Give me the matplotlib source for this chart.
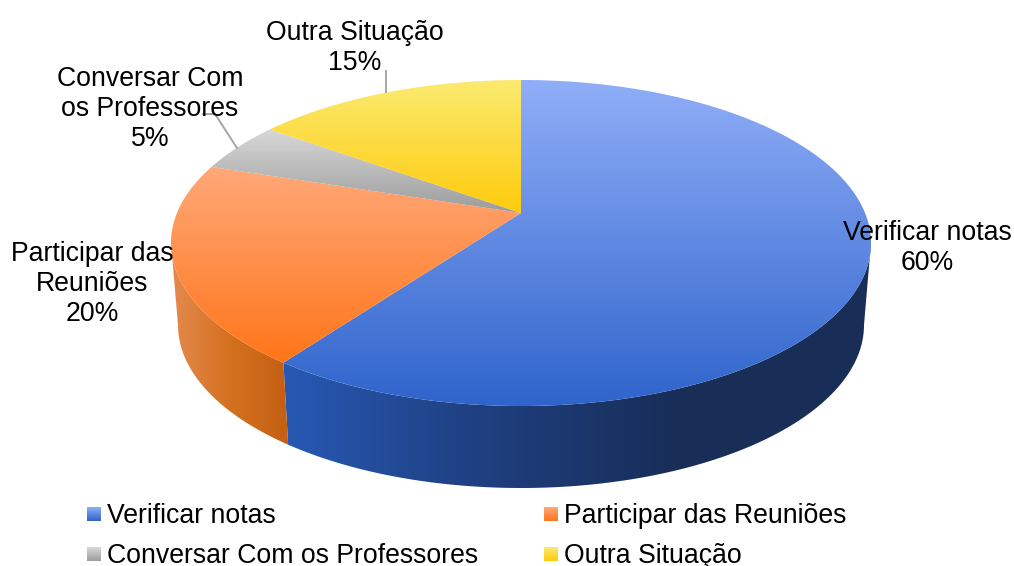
# 3d style pie chart, drawn by hand since matplotlib has no perspective pie
import numpy as np
import matplotlib
matplotlib.use('Agg')
import matplotlib.pyplot as plt
from matplotlib.colors import LinearSegmentedColormap
from matplotlib.patches import Polygon

labels = ['Verificar notas', 'Participar das Reuniões', 'Conversar Com os Professores', 'Outra Situação']
wrapped = ['Verificar notas', 'Participar das\nReuniões', 'Conversar Com\nos Professores', 'Outra Situação']
values = [60, 20, 5, 15]

top_colors = [('#90AEF8', '#2F64CB'), ('#FFA878', '#FF7519'), ('#D8D8D8', '#9C9C9C'), ('#FBEA70', '#FFCB0C')]
side_colors = [('#2759B4', '#1F3F80', '#182E58', '#1A2F57'), ('#E48A50', '#D4711F', '#C45F12'),
               ('#A0A0A0', '#808080'), ('#C09A10', '#A08000')]
label_pos = [(927, 248), (92, 284), (150, 109), (355, 48)]
legend_pos = [(87, 523), (544, 523), (87, 563), (544, 563)]

plt.rcParams['font.family'] = ['Liberation Sans', 'DejaVu Sans']

cx, cy = 521, 243
rx, ry = 350, 163
persp = 30 / ry
depth = 82
shrink = 0.98
fsize = 19.2


# perspective: circle to ellipse, the apex ends up above the ellipse centre
def project(theta, r=1.0, scale=1.0, dy=0):
    u = r * np.sin(theta)
    v = r * np.cos(theta)
    d = persp * v + 1
    x = cx + scale * rx * np.sqrt(1 - persp ** 2) * u / d
    y = cy + dy - ((ry * v + 30) / d)
    return x, y


def shade(ax, xs, ys, colors, vertical=True, z=2):
    poly = Polygon(np.column_stack([xs, ys]), closed=True, facecolor='none', edgecolor='none', zorder=z)
    ax.add_patch(poly)
    cmap = LinearSegmentedColormap.from_list('g', colors)
    ramp = np.linspace(0, 1, 256)
    ramp = ramp.reshape(-1, 1) if vertical else ramp.reshape(1, -1)
    ext = (min(xs), max(xs), max(ys), min(ys))
    im = ax.imshow(ramp, cmap=cmap, extent=ext, aspect='auto', interpolation='bilinear', zorder=z)
    im.set_clip_path(poly)
    return im


fig = plt.figure(figsize=(10.14, 5.66), dpi=100)
ax = fig.add_axes([0, 0, 1, 1])

edges = np.concatenate([[0], np.cumsum(values)]) / np.sum(values) * 2 * np.pi

# only the front part of the rim shows, between the left and right silhouette points
front_start = np.arccos(-persp)
front_end = 2 * np.pi - front_start
for i in range(len(values)):
    a = max(edges[i], front_start)
    b = min(edges[i + 1], front_end)
    if a >= b:
        continue
    t = np.linspace(a, b, 300)
    x1, y1 = project(t)
    x2, y2 = project(t[::-1], scale=shrink, dy=depth)
    shade(ax, np.r_[x1, x2], np.r_[y1, y2], side_colors[i], vertical=False, z=2)

for i in range(len(values)):
    t = np.linspace(edges[i], edges[i + 1], 300)
    x1, y1 = project(t)
    x0, y0 = project(0.0, r=0.0)
    shade(ax, np.r_[x0, x1], np.r_[y0, y1], top_colors[i], z=3)

# leader lines
ax.plot([386, 386], [71, 92], color='#A6A6A6', lw=1.4, zorder=4)
ax.plot([203, 215, 237], [114, 114, 148], color='#A6A6A6', lw=1.4, zorder=4)

for i in range(len(values)):
    px, py = label_pos[i]
    ax.text(px, py, f'{wrapped[i]}\n{values[i]}%', ha='center', va='center', fontsize=fsize,
            linespacing=1.22, color='black', zorder=5)

# legend
for i in range(len(labels)):
    lx, ly = legend_pos[i]
    cmap = LinearSegmentedColormap.from_list('l', top_colors[i])
    ax.imshow(np.linspace(0, 1, 32).reshape(-1, 1), cmap=cmap, extent=(lx, lx + 14, ly - 2, ly - 16),
              aspect='auto', zorder=3)
    ax.text(lx + 20, ly, labels[i], ha='left', va='baseline', fontsize=fsize, color='black', zorder=5)

ax.set_xlim(0, 1014)
ax.set_ylim(566, 0)
ax.axis('off')

fig.savefig('out.png', dpi=100)
